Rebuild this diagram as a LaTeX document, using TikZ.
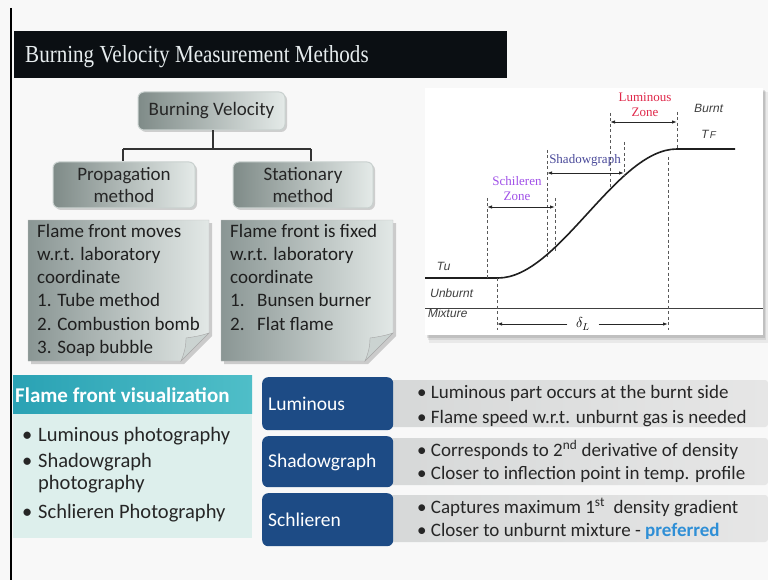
\documentclass[tikz,border=0pt]{standalone}
\usepackage{fontspec}
\setmainfont{Carlito}
\newfontfamily\titlefont[FakeStretch=0.86]{Liberation Serif}
\newfontfamily\graphfont{Liberation Serif}
\newfontfamily\handfont[FakeSlant=0.2]{Liberation Sans}
\usetikzlibrary{shadows,calc,arrows.meta}
\definecolor{pagebg}{HTML}{F8F8F8}
\definecolor{titlebg}{HTML}{0B0F13}
\definecolor{titletext}{HTML}{E6ECEE}
\definecolor{boxdark}{HTML}{7F8B88}
\definecolor{boxlight}{HTML}{E4EAE8}
\definecolor{boxedge}{HTML}{C9D1CF}
\definecolor{notedark}{HTML}{8A9694}
\definecolor{notelight}{HTML}{E2E8E6}
\definecolor{curlcol}{HTML}{CBD3D1}
\definecolor{tealA}{HTML}{2AA2B4}
\definecolor{tealB}{HTML}{4FBEC8}
\definecolor{mint}{HTML}{DDEFEC}
\definecolor{navy}{HTML}{1D4B85}
\definecolor{rowgrayA}{HTML}{D6D8D8}
\definecolor{rowgrayB}{HTML}{E6E6E6}
\definecolor{prefblue}{HTML}{2F8FD6}
\definecolor{lumred}{HTML}{E0284A}
\definecolor{schpurple}{HTML}{A050E8}
\definecolor{shadblue}{HTML}{4A4A9A}
\begin{document}
\begin{tikzpicture}[x=1pt,y=-1pt,
  treebox/.style={draw=boxedge, line width=1pt, rounded corners=6pt,
    left color=boxdark, right color=boxlight, align=center, text=black!85,
    font=\fontsize{19}{22}\selectfont, inner sep=0pt,
    drop shadow={shadow xshift=2pt, shadow yshift=-2pt, opacity=.35}},
  treeline/.style={draw=black!80, line width=1.3pt},
  notebody/.style={left color=notedark, right color=notelight, draw=black!25, line width=.4pt},
  notetext/.style={anchor=north west, inner sep=0pt, align=left, text=black!88,
    font=\fontsize{19}{23.2}\selectfont},
  guide/.style={draw=black!65, line width=.8pt, dash pattern=on 3pt off 2.5pt},
  dimarrow/.style={draw=black!85, line width=.9pt, {Latex[length=5pt,width=3.5pt]}-{Latex[length=5pt,width=3.5pt]}},
  gl/.style={font=\graphfont\fontsize{13}{15}\selectfont, align=center, inner sep=0pt},
  hand/.style={font=\handfont\fontsize{12}{13}\selectfont, text=black!75, inner sep=0pt},
  navybox/.style={fill=navy, rounded corners=6pt},
  graybox/.style={left color=rowgrayA, right color=rowgrayB, rounded corners=3pt},
  rowlabel/.style={anchor=west, text=white, inner sep=0pt, font=\fontsize{19.5}{22}\selectfont},
  rowtext/.style={anchor=base west, inner sep=0pt, text=black!85, font=\fontsize{19}{22}\selectfont},
  lefttext/.style={anchor=base west, inner sep=0pt, text=black!85, font=\fontsize{20.5}{24}\selectfont}
]
\useasboundingbox (0,0) rectangle (768,580);
\fill[pagebg] (0,0) rectangle (768,580);
% left rule
\draw[black, line width=1.2pt] (11,8) -- (11,580);
% title
\node[fill=titlebg, anchor=north west, minimum width=493pt, minimum height=47pt, inner sep=0pt] (titlebar) at (14,31) {};
\node[anchor=base west, inner sep=0pt, text=titletext, font=\titlefont\fontsize{24.5}{26}\selectfont] (title) at (25,63) {Burning Velocity Measurement Methods};

% tree
\node[treebox, minimum width=147pt, minimum height=38pt] (bv) at (211.5,111) {Burning Velocity};
\node[treebox, minimum width=142pt, minimum height=46pt] (prop) at (124,185) {Propagation\\method};
\node[treebox, minimum width=140pt, minimum height=46pt] (stat) at (303,185) {Stationary\\method};
\coordinate (junc) at (213,149);
\coordinate (pdrop) at (123,149);
\coordinate (sdrop) at (311,149);
\draw[treeline] (bv.south -| junc) -- (junc);
\draw[treeline] (pdrop) -- (sdrop);
\draw[treeline] (pdrop) -- (pdrop |- prop.north);
\draw[treeline] (sdrop) -- (sdrop |- stat.north);

% sticky notes
\fill[black, opacity=.18] (31,223) -- (212,223) -- (212,336) -- (184,364) -- (31,364) -- cycle;
\path[notebody] (28,220) -- (209,220) -- (209,333) -- (181,361) -- (28,361) -- cycle;
\path[fill=curlcol, draw=black!35, line width=.4pt] (209,333) .. controls (200,336) and (193,337) .. (186,338) .. controls (186,347) and (184,354) .. (181,361) -- cycle;
\node[notetext] (leftnote) at (37,224) {Flame front moves\\w.r.t. laboratory\\coordinate\\1. Tube method\\2. Combustion bomb\\3. Soap bubble};

\fill[black, opacity=.18] (224,223) -- (396,223) -- (396,336) -- (368,364) -- (224,364) -- cycle;
\path[notebody] (221,220) -- (393,220) -- (393,333) -- (365,361) -- (221,361) -- cycle;
\path[fill=curlcol, draw=black!35, line width=.4pt] (393,333) .. controls (384,336) and (377,337) .. (370,338) .. controls (370,347) and (368,354) .. (365,361) -- cycle;
\node[notetext] (rightnote) at (230,224) {Flame front is fixed\\w.r.t. laboratory\\coordinate\\\makebox[27pt][l]{1.}Bunsen burner\\\makebox[27pt][l]{2.}Flat flame};

% graph panel
\fill[black, opacity=.06] (429,92) rectangle (768,343);
\fill[black, opacity=.08] (428,91) rectangle (766,340);
\fill[black, opacity=.10] (427,90) rectangle (765,338);
\fill[white] (425,88) rectangle (763,335);
\draw[black!75, line width=.8pt] (425,308) -- (763,308);
\draw[black!88, line width=1.6pt] (425,278) -- (498,278) .. controls (559,278) and (616,149) .. (677,149) -- (735,149);
% dashed guides
\draw[guide] (487,198) -- (487,278);
\draw[guide] (547,150) -- (547,257);
\draw[guide] (555,198) -- (555,252);
\draw[guide] (610,113) -- (610,190);
\draw[guide] (624,142) -- (624,176);
\draw[guide] (677,112) -- (677,149);
\draw[guide] (668,157) -- (668,330);
\draw[guide] (497,278) -- (497,330);
% dimension arrows
\coordinate (sa) at (487,207); \coordinate (sb) at (555,207);
\coordinate (ha) at (547,173); \coordinate (hb) at (624,173);
\coordinate (la) at (610,122); \coordinate (lb) at (677,122);
\draw[dimarrow] (sa) -- (sb);
\draw[dimarrow] (ha) -- (hb);
\draw[dimarrow] (la) -- (lb);
\node[gl, text=lumred] (lumlab) at (645,105) {Luminous\\Zone};
\node[gl, text=shadblue] (shadlab) at (585,160) {Shadowgraph};
\node[gl, text=schpurple] (schlab) at (517,189) {Schileren\\Zone};
\coordinate (dl) at (497,324); \coordinate (dr) at (668,324);
\node[inner sep=0pt, minimum width=31pt, font=\fontsize{14}{16}\selectfont] (delta) at (583,324) {$\delta_L$};
\draw[draw=black!85, line width=.9pt, -{Latex[length=5pt,width=3.5pt]}] (delta.west) -- (dl);
\draw[draw=black!85, line width=.9pt, -{Latex[length=5pt,width=3.5pt]}] (delta.east) -- (dr);
\node[hand] (burnt) at (708,108) {Burnt};
\node[hand] (tf) at (708,134) {T\kern1.5pt{\fontsize{10}{10}\selectfont F}};
\node[hand] (tu) at (443,266) {Tu};
\node[hand] (unb) at (451,293) {Unburnt};
\node[hand] (mix) at (447,313) {Mixture};

% flame front visualization panel
\fill[mint] (13,413) rectangle (252,538);
\node[anchor=north west, minimum width=239pt, minimum height=38pt, inner sep=0pt, left color=tealA, right color=tealB] (ffvbar) at (13,375) {};
\node[anchor=base west, inner sep=0pt, text=white, font=\bfseries\fontsize{21}{24}\selectfont] (ffv) at (15,402) {Flame front visualization};
\node[lefttext] (b1) at (22,441) {\makebox[16pt][l]{\textbullet}Luminous photography};
\node[lefttext] (b2) at (22,467) {\makebox[16pt][l]{\textbullet}Shadowgraph};
\node[lefttext] (b2b) at (38,489) {photography};
\node[lefttext] (b3) at (22,518) {\makebox[16pt][l]{\textbullet}Schlieren Photography};

% rows
\path[graybox] (385,380) rectangle (768,427);
\path[graybox] (385,438) rectangle (768,485);
\path[graybox] (385,495) rectangle (768,542);
\node[navybox, anchor=north west, minimum width=131pt, minimum height=53pt, inner sep=0pt] (r1) at (262,377) {};
\node[navybox, anchor=north west, minimum width=131pt, minimum height=51pt, inner sep=0pt] (r2) at (262,436) {};
\node[navybox, anchor=north west, minimum width=131pt, minimum height=53pt, inner sep=0pt] (r3) at (262,493) {};
\node[rowlabel] (l1) at (268,404) {Luminous};
\node[rowlabel] (l2) at (268,462) {Shadowgraph};
\node[rowlabel] (l3) at (268,520) {Schlieren};
\node[rowtext] (t11) at (417,398) {\textbullet\ Luminous part occurs at the burnt side};
\node[rowtext] (t12) at (417,423) {\textbullet\ Flame speed w.r.t. unburnt gas is needed};
\node[rowtext] (t21) at (417,456) {\textbullet\ Corresponds to 2\textsuperscript{nd} derivative of density};
\node[rowtext] (t22) at (417,479) {\textbullet\ Closer to inflection point in temp. profile};
\node[rowtext] (t31) at (417,513) {\textbullet\ Captures maximum 1\textsuperscript{st}\ \ density gradient};
\node[rowtext] (t32) at (417,536) {\textbullet\ Closer to unburnt mixture - \textcolor{prefblue}{\bfseries preferred}};
\end{tikzpicture}
\end{document}
